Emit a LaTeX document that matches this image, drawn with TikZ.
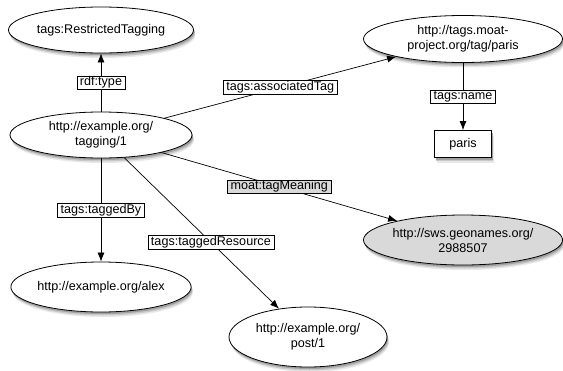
\documentclass[tikz,border=0pt]{standalone}
\usepackage{fontspec}
\setmainfont{Liberation Sans}
\usepackage{xcolor}
\usepackage{tikz}
\usetikzlibrary{shapes.geometric,arrows.meta}
\definecolor{TagGrey}{RGB}{217,217,217}
\definecolor{ShadeA}{RGB}{232,232,232}
\definecolor{ShadeB}{RGB}{200,200,200}
\definecolor{ShadeC}{RGB}{160,160,160}

\begin{document}
\begin{tikzpicture}[x=1pt, y=-1pt,
    font=\fontsize{12.6}{15}\selectfont,
    res/.style={ellipse, draw, fill=white, line width=0.8pt, align=center, inner sep=0pt},
    lit/.style={rectangle, draw, fill=white, line width=0.8pt, inner sep=0pt},
    prop/.style={rectangle, draw, fill=white, line width=0.5pt, inner xsep=3pt, inner ysep=1pt,
        text height=9pt, text depth=2.5pt},
    link/.style={-{Latex[length=9pt,width=7pt]}, line width=0.7pt}]
    \useasboundingbox (0,0) rectangle (563,370);

    % Shadows, drawn first
    \foreach \cx/\cy/\rx/\ry in {101/30/92.5/23, 101/135/91/23, 463/39/99.5/23.5,
            463/240/99.5/25, 101/287/90/25, 308/337/79/30} {
        \fill[ShadeA] (\cx+2,\cy+5) ellipse [x radius=\rx, y radius=\ry];
        \fill[ShadeB] (\cx+1.5,\cy+3.5) ellipse [x radius=\rx, y radius=\ry];
        \fill[ShadeC] (\cx+1,\cy+2) ellipse [x radius=\rx, y radius=\ry];
    }
    \fill[ShadeA] (436.5,135.5) rectangle (493.5,162.5);
    \fill[ShadeB] (436,134) rectangle (493,161);
    \fill[ShadeC] (435.5,132.5) rectangle (492.5,159.5);

    % Resources
    \node[res, minimum width=185pt, minimum height=46pt] (restricted) at (101,30) {tags:RestrictedTagging};
    \node[res, minimum width=182pt, minimum height=46pt] (tagging) at (101,135) {http://example.org/\\tagging/1};
    \node[res, minimum width=199pt, minimum height=47pt] (moattag) at (463,39) {http://tags.moat-\\project.org/tag/paris};
    \node[res, minimum width=199pt, minimum height=50pt, fill=TagGrey] (geonames) at (463,240) {http://sws.geonames.org/\\2988507};
    \node[res, minimum width=180pt, minimum height=50pt] (alex) at (101,287) {http://example.org/alex};
    \node[res, minimum width=158pt, minimum height=60pt] (post) at (308,337) {http://example.org/\\post/1};

    % Literal
    \node[lit, minimum width=57pt, minimum height=27pt] (paris) at (463,144) {paris};

    % Properties
    \draw[link] (tagging) -- (restricted) node[prop, midway] {rdf:type};
    \draw[link] (tagging) -- (moattag) node[prop, midway] {tags:associatedTag};
    \draw[link] (moattag) -- (paris) node[prop, midway] {tags:name};
    \draw[link] (tagging) -- (geonames) node[prop, midway, fill=TagGrey] {moat:tagMeaning};
    \draw[link] (tagging) -- (alex) node[prop, midway] {tags:taggedBy};
    \draw[link] (tagging) -- (post) node[prop, pos=0.56] {tags:taggedResource};
\end{tikzpicture}
\end{document}
